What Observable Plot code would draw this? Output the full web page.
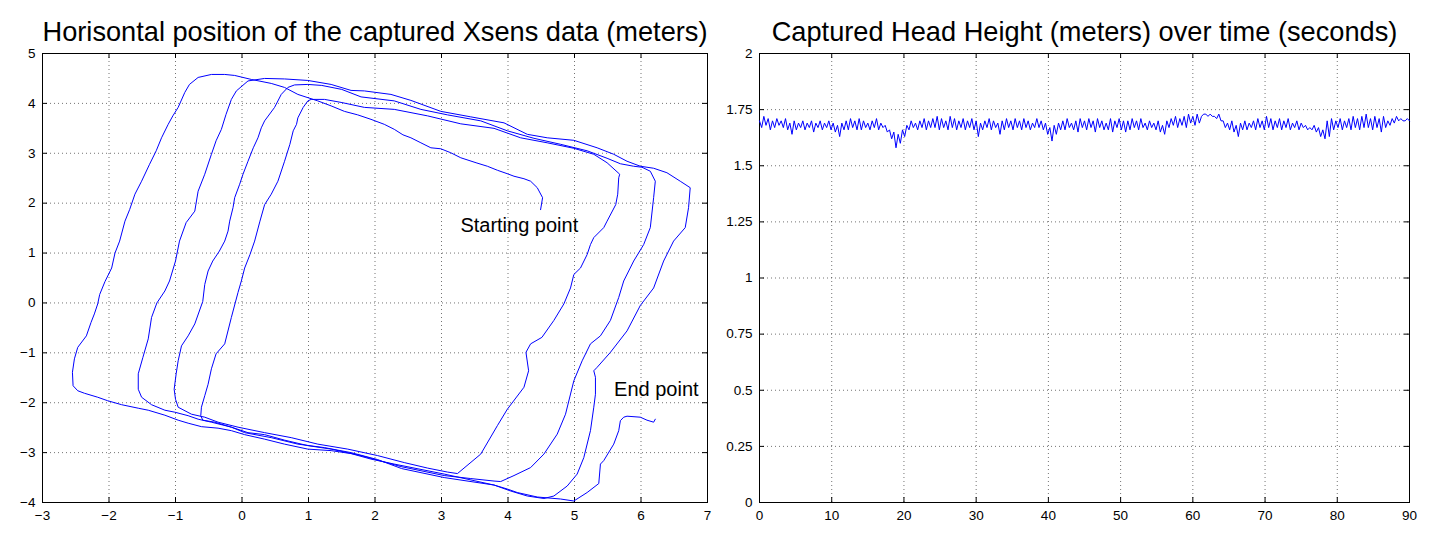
<!DOCTYPE html>
<html>
<head>
<meta charset="utf-8">
<script src="https://cdn.jsdelivr.net/npm/d3@7"></script>
<script src="https://cdn.jsdelivr.net/npm/@observablehq/plot@0.6"></script>
<style>
  html, body { margin: 0; padding: 0; background: #fff; }
  #wrap { display: flex; flex-direction: row; width: 1437px; height: 547px; }
  svg { display: block; }
</style>
</head>
<body>
<div id="wrap"></div>
<script>
// ---------- Titles ----------
const titleLeft = "Horisontal position of the captured Xsens data (meters)";
const titleRight = "Captured Head Height (meters) over time (seconds)";

// ---------- Ticks ----------
const posXTicks = [-3, -2, -1, 0, 1, 2, 3, 4, 5, 6, 7];
const posYTicks = [-4, -3, -2, -1, 0, 1, 2, 3, 4, 5];
const timeTicks = [0, 10, 20, 30, 40, 50, 60, 70, 80, 90];
const heightTicks = [0, 0.25, 0.5, 0.75, 1, 1.25, 1.5, 1.75, 2];

// ---------- Trajectory (x, y in meters), in walking order ----------
const loop1 = [
  [4.49,1.87],[4.52,2.11],[4.44,2.31],[4.34,2.44],[4.24,2.49],[4.09,2.54],[3.99,2.59],[3.84,2.66],[3.69,2.74],[3.52,2.81],
  [3.29,2.91],[3.14,3.01],[2.99,3.09],[2.84,3.11],[2.69,3.21],[2.54,3.31],[2.42,3.37],[2.29,3.48],[2.14,3.58],[1.94,3.68],
  [1.74,3.77],[1.54,3.84],[1.34,3.95],[1.14,4.05],[0.84,4.18],[0.64,4.32],[0.44,4.40],[0.14,4.48],[-0.11,4.56],[-0.26,4.58],
  [-0.46,4.58],[-0.66,4.52],[-0.79,4.38],[-0.86,4.22],[-0.96,3.92],[-1.04,3.75],[-1.11,3.58],[-1.21,3.31],[-1.29,3.05],[-1.39,2.78],
  [-1.51,2.44],[-1.61,2.18],[-1.69,1.87],[-1.76,1.64],[-1.84,1.24],[-1.91,1.0],[-1.96,0.70],[-2.06,0.43],[-2.14,0.17],[-2.17,-0.02],
  [-2.22,-0.22],[-2.27,-0.39],[-2.34,-0.66],[-2.47,-0.89],[-2.52,-1.12],[-2.55,-1.39],[-2.54,-1.66],[-2.47,-1.76],[-2.37,-1.81],[-2.17,-1.89],
  [-2.02,-1.96],[-1.81,-2.04],[-1.56,-2.11],[-1.41,-2.15],[-1.16,-2.25],[-0.96,-2.35],[-0.81,-2.41],[-0.61,-2.48],[-0.36,-2.51],[-0.16,-2.56],
  [0.04,-2.64],[0.34,-2.73],[0.64,-2.83],[0.99,-2.93],[1.34,-2.96],[1.64,-3.02],[1.94,-3.13],[2.29,-3.23],[3.04,-3.43],[3.79,-3.65],
  [4.04,-3.77],[4.29,-3.87],[4.54,-3.92],[4.69,-3.87],[4.89,-3.67],[5.04,-3.43],[5.14,-3.10],[5.24,-2.56],[5.29,-2.09],[5.315,-1.83],
  [5.315,-1.49],[5.29,-1.36],[5.34,-1.29],[5.54,-0.99],[5.79,-0.56],[5.99,-0.05],[6.19,0.30],[6.34,0.84],[6.49,1.24],[6.665,1.51],
  [6.715,1.91],[6.74,2.31]
];
const loop2 = [
  [6.59,2.44],[6.39,2.61],[6.19,2.70],[5.99,2.74],[5.79,2.84],[5.59,2.98],[5.34,3.11],[4.99,3.26],[4.59,3.31],[4.29,3.38],
  [3.94,3.61],[3.44,3.73],[2.99,3.84],[2.54,4.06],[2.24,4.18],[1.84,4.25],[1.64,4.26],[1.34,4.38],[0.99,4.46],[0.64,4.49],
  [0.34,4.50],[0.09,4.45],[-0.085,4.25],[-0.16,4.08],[-0.24,3.78],[-0.31,3.48],[-0.39,3.25],[-0.46,2.98],[-0.56,2.58],[-0.66,2.24],
  [-0.71,1.84],[-0.84,1.61],[-0.94,1.24],[-1.0,0.84],[-1.09,0.44],[-1.16,0.24],[-1.28,0.0],[-1.36,-0.29],[-1.41,-0.72],[-1.49,-1.09],
  [-1.56,-1.42],[-1.56,-1.73],[-1.51,-1.89],[-1.36,-2.04],[-1.16,-2.15],[-1.01,-2.19],[-0.81,-2.26],[-0.66,-2.33],[-0.46,-2.39],[-0.16,-2.49],
  [0.09,-2.60],[0.34,-2.64],[0.64,-2.75],[0.99,-2.86],[1.34,-2.93],[1.79,-3.06],[2.39,-3.28],[3.04,-3.46],[3.44,-3.52],[3.79,-3.57],
  [3.89,-3.58],[4.09,-3.46],[4.34,-3.30],[4.54,-3.03],[4.74,-2.63],[4.865,-2.23],[4.99,-1.56],[5.115,-1.16],[5.24,-0.82],[5.39,-0.66],
  [5.54,-0.35],[5.665,0.11],[5.74,0.44],[5.89,0.84],[6.04,1.17],[6.14,1.51],[6.19,2.11],[6.215,2.44],[6.14,2.64],[6.015,2.72]
];
const loop3 = [
  [5.89,2.74],[5.69,2.79],[5.49,2.90],[5.19,3.05],[4.79,3.18],[4.39,3.30],[3.99,3.45],[3.59,3.65],[3.09,3.77],[2.69,3.88],
  [2.29,4.05],[1.79,4.13],[1.5,4.28],[1.2,4.36],[0.99,4.38],[0.79,4.37],[0.69,4.32],[0.59,4.18],[0.49,3.92],[0.34,3.65],
  [0.29,3.51],[0.24,3.31],[0.17,3.11],[0.09,2.84],[0.015,2.58],[-0.035,2.38],[-0.11,2.11],[-0.135,1.91],[-0.185,1.64],[-0.21,1.44],
  [-0.26,1.24],[-0.34,1.04],[-0.44,0.84],[-0.51,0.64],[-0.56,0.37],[-0.59,0.03],[-0.71,-0.42],[-0.81,-0.66],[-0.91,-0.86],[-0.96,-1.16],
  [-0.99,-1.42],[-1.02,-1.73],[-1.0,-1.93],[-0.96,-2.09],[-0.76,-2.23],[-0.56,-2.29],[-0.36,-2.39],[-0.06,-2.49],[0.34,-2.60],[0.74,-2.70],
  [1.14,-2.83],[1.59,-2.93],[2.04,-3.06],[2.44,-3.20],[2.79,-3.31],[3.09,-3.39],[3.24,-3.42],[3.59,-3.03],[3.84,-2.46],[3.99,-2.13],
  [4.24,-1.69],[4.31,-1.36],[4.27,-0.99],[4.34,-0.82],[4.51,-0.69],[4.69,-0.35],[4.84,-0.02],[4.94,0.30],[4.99,0.57],[5.09,0.70],
  [5.19,0.97],[5.24,1.17],[5.29,1.31],[5.44,1.51],[5.49,1.64],[5.62,1.97],[5.65,2.18],[5.665,2.51],[5.68,2.58]
];
const loop4 = [
  [5.49,2.81],[5.29,2.98],[4.99,3.10],[4.59,3.21],[4.19,3.31],[3.79,3.50],[3.29,3.59],[2.79,3.75],[2.29,3.88],[1.84,3.92],
  [1.49,4.02],[1.24,4.08],[1.04,4.08],[0.99,4.05],[0.92,3.92],[0.84,3.71],[0.82,3.58],[0.77,3.45],[0.72,3.18],[0.64,2.84],
  [0.54,2.44],[0.44,2.18],[0.34,1.97],[0.27,1.64],[0.19,1.24],[0.12,0.97],[0.04,0.70],[-0.01,0.44],[-0.06,0.21],[-0.16,-0.29],
  [-0.26,-0.82],[-0.39,-1.02],[-0.46,-1.32],[-0.51,-1.63],[-0.56,-1.86],[-0.61,-2.09],[-0.62,-2.26],[-0.59,-2.35],[-0.41,-2.39],[-0.16,-2.49],
  [0.04,-2.60],[0.44,-2.70],[0.84,-2.83],[1.24,-2.90],[1.64,-3.00],[2.04,-3.14],[2.40,-3.32],[3.04,-3.50],[3.79,-3.65],[3.99,-3.73],
  [4.14,-3.80],[4.44,-3.89],[4.79,-3.93],[4.99,-3.97]
];
const finish = [
  [5.19,-3.80],[5.365,-3.62],[5.39,-3.23],[5.44,-3.16],[5.59,-2.83],[5.665,-2.56],[5.69,-2.36],[5.74,-2.29],[5.79,-2.27],[5.99,-2.29],
  [6.09,-2.35],[6.19,-2.39],[6.215,-2.33]
];
const annotations = [
  {x: 4.17, y: 1.55, text: "Starting point"},
  {x: 6.23, y: -1.74, text: "End point"}
];

// ---------- Head height (meters), one sample every 0.3 s from 0 to 90 s ----------
const sampleStep = 0.3;
const headHeight = [
  1.70,1.67,1.72,1.68,1.71,1.66,1.70,1.67,1.71,1.68,
  1.70,1.67,1.71,1.66,1.69,1.64,1.70,1.66,1.69,1.67,
  1.70,1.66,1.69,1.67,1.70,1.65,1.69,1.67,1.70,1.66,
  1.69,1.67,1.70,1.66,1.69,1.65,1.68,1.63,1.69,1.66,
  1.70,1.66,1.71,1.67,1.70,1.66,1.71,1.66,1.70,1.67,
  1.69,1.66,1.70,1.67,1.71,1.66,1.69,1.67,1.68,1.65,
  1.66,1.62,1.65,1.58,1.64,1.60,1.66,1.63,1.68,1.66,
  1.70,1.67,1.69,1.66,1.70,1.67,1.71,1.66,1.70,1.67,
  1.71,1.67,1.72,1.66,1.71,1.67,1.70,1.66,1.72,1.67,
  1.71,1.66,1.70,1.67,1.71,1.66,1.70,1.67,1.71,1.66,
  1.70,1.63,1.69,1.66,1.70,1.67,1.71,1.66,1.70,1.67,
  1.69,1.64,1.70,1.66,1.71,1.67,1.70,1.66,1.71,1.67,
  1.70,1.66,1.71,1.67,1.70,1.66,1.69,1.67,1.71,1.67,
  1.70,1.66,1.69,1.64,1.67,1.61,1.68,1.64,1.69,1.66,
  1.70,1.66,1.71,1.67,1.69,1.66,1.70,1.65,1.71,1.67,
  1.70,1.66,1.71,1.67,1.70,1.65,1.71,1.67,1.70,1.66,
  1.69,1.66,1.71,1.65,1.70,1.67,1.71,1.66,1.70,1.65,
  1.70,1.66,1.71,1.67,1.70,1.66,1.71,1.67,1.69,1.66,
  1.70,1.67,1.69,1.66,1.70,1.65,1.68,1.64,1.70,1.67,
  1.71,1.68,1.72,1.67,1.71,1.68,1.72,1.67,1.73,1.69,
  1.72,1.68,1.73,1.69,1.72,1.73,1.73,1.72,1.73,1.72,
  1.72,1.71,1.73,1.70,1.70,1.67,1.69,1.66,1.70,1.65,
  1.68,1.63,1.69,1.66,1.70,1.66,1.69,1.67,1.70,1.66,
  1.71,1.67,1.70,1.66,1.72,1.67,1.71,1.66,1.70,1.67,
  1.71,1.66,1.70,1.67,1.71,1.66,1.69,1.67,1.70,1.66,
  1.69,1.67,1.68,1.66,1.67,1.66,1.68,1.65,1.67,1.63,
  1.66,1.62,1.70,1.63,1.71,1.66,1.70,1.67,1.71,1.66,
  1.70,1.67,1.71,1.66,1.72,1.67,1.71,1.66,1.72,1.67,
  1.73,1.67,1.71,1.66,1.72,1.67,1.71,1.65,1.72,1.67,
  1.70,1.68,1.71,1.69,1.72,1.70,1.71,1.70,1.70,1.71,
  1.70
];

// ---------- Build tables ----------
const track = [...loop1, ...loop2, ...loop3, ...loop4, ...finish].map(([x, y]) => ({x, y}));
const heightSeries = headHeight.map((h, i) => ({t: +(i * sampleStep).toFixed(2), h}));

const FONT = "'Liberation Sans', Arial, Helvetica, sans-serif";
const minusFmt = d => (d < 0 ? "\u2212" + Math.abs(d) : String(d));
const gridStyle = {stroke: "#000", strokeOpacity: 0.55, strokeDasharray: "1,3", strokeWidth: 1};

function frameTicks(xs, ys, fw, fh) {
  const L = 5;
  return [
    Plot.tickX(xs, {x: d => d, insetTop: fh - L, stroke: "#000"}),
    Plot.tickX(xs, {x: d => d, insetBottom: fh - L, stroke: "#000"}),
    Plot.tickY(ys, {y: d => d, insetRight: fw - L, stroke: "#000"}),
    Plot.tickY(ys, {y: d => d, insetLeft: fw - L, stroke: "#000"})
  ];
}

// ---------- Left chart ----------
const LW = 720, H = 547, LML = 42, LMR = 13, MT = 53, MB = 45;
const left = Plot.plot({
  width: LW, height: H,
  marginLeft: LML, marginRight: LMR, marginTop: MT, marginBottom: MB,
  style: {fontFamily: FONT, fontSize: "13.5px", color: "#000", background: "#fff", overflow: "visible"},
  x: {domain: [-3, 7], label: null},
  y: {domain: [-4, 5], label: null},
  marks: [
    Plot.gridX(posXTicks, gridStyle),
    Plot.gridY(posYTicks, gridStyle),
    Plot.axisX(posXTicks, {tickSize: 0, tickPadding: 8, tickFormat: minusFmt, fontSize: 13.5, label: null}),
    Plot.axisY(posYTicks, {tickSize: 0, tickPadding: 7, tickFormat: minusFmt, fontSize: 13.5, label: null}),
    ...frameTicks(posXTicks, posYTicks, LW - LML - LMR, H - MT - MB),
    Plot.frame({stroke: "#000", strokeWidth: 1}),
    Plot.line(track, {x: "x", y: "y", stroke: "#0000ff", strokeWidth: 1}),
    Plot.text(annotations, {x: "x", y: "y", text: "text", fontSize: 20, fill: "#000"}),
    Plot.text([titleLeft], {frameAnchor: "top", lineAnchor: "middle", dy: -21, fontSize: 27.2, fill: "#000"})
  ]
});

// ---------- Right chart ----------
const RW = 717, RML = 39, RMR = 28;
const right = Plot.plot({
  width: RW, height: H,
  marginLeft: RML, marginRight: RMR, marginTop: MT, marginBottom: MB,
  style: {fontFamily: FONT, fontSize: "13.5px", color: "#000", background: "#fff", overflow: "visible"},
  x: {domain: [0, 90], label: null},
  y: {domain: [0, 2], label: null},
  marks: [
    Plot.gridX(timeTicks, gridStyle),
    Plot.gridY(heightTicks, gridStyle),
    Plot.axisX(timeTicks, {tickSize: 0, tickPadding: 8, tickFormat: d => String(d), fontSize: 13.5, label: null}),
    Plot.axisY(heightTicks, {tickSize: 0, tickPadding: 7, tickFormat: d => String(d), fontSize: 13.5, label: null}),
    ...frameTicks(timeTicks, heightTicks, RW - RML - RMR, H - MT - MB),
    Plot.frame({stroke: "#000", strokeWidth: 1}),
    Plot.line(heightSeries, {x: "t", y: "h", stroke: "#0000ff", strokeWidth: 1}),
    Plot.text([titleRight], {frameAnchor: "top", lineAnchor: "middle", dy: -21, fontSize: 27.2, fill: "#000"})
  ]
});

const wrap = document.getElementById("wrap");
wrap.appendChild(left);
wrap.appendChild(right);
</script>
</body>
</html>
